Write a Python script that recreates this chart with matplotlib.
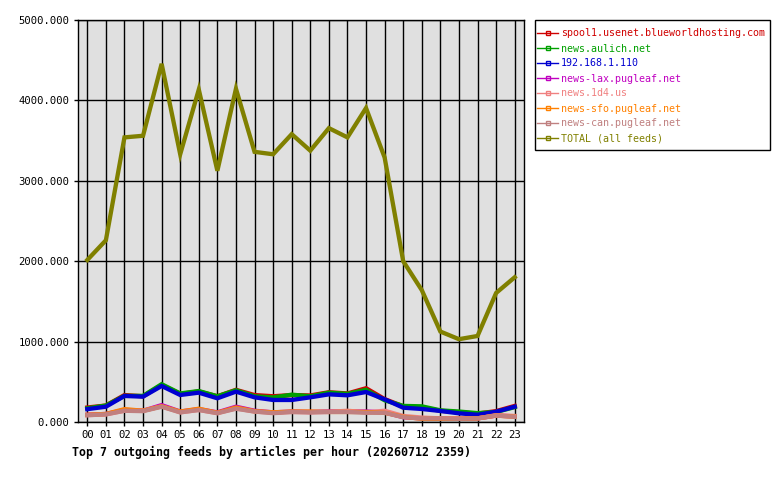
import matplotlib
matplotlib.use("Agg")
import matplotlib.pyplot as plt
from matplotlib.lines import Line2D
from matplotlib.patches import Rectangle

hours = ["00", "01", "02", "03", "04", "05", "06", "07", "08", "09", "10", "11",
         "12", "13", "14", "15", "16", "17", "18", "19", "20", "21", "22", "23"]

feed_names = ["spool1.usenet.blueworldhosting.com", "news.aulich.net", "192.168.1.110",
              "news-lax.pugleaf.net", "news.1d4.us", "news-sfo.pugleaf.net",
              "news-can.pugleaf.net", "TOTAL (all feeds)"]
feed_colors = ["#d00000", "#00a000", "#0000d0", "#c000c0", "#f08080", "#ff8000",
               "#c08080", "#808000"]

spool1 = [180, 205, 335, 320, 460, 350, 380, 320, 400, 335, 320, 335,
          330, 370, 355, 420, 285, 195, 180, 140, 120, 105, 135, 200]
aulich = [170, 205, 325, 325, 470, 355, 385, 320, 395, 320, 305, 340,
          320, 365, 350, 400, 270, 200, 195, 145, 130, 110, 125, 185]
local = [160, 190, 324, 315, 448, 336, 365, 295, 378, 307, 274, 274,
         307, 344, 332, 373, 282, 178, 162, 137, 108, 90, 128, 190]
lax = [90, 100, 150, 140, 210, 130, 160, 120, 190, 140, 120, 130,
       125, 130, 130, 130, 120, 60, 45, 45, 40, 45, 80, 70]
d4 = [85, 95, 140, 140, 195, 120, 150, 110, 170, 130, 115, 125,
      120, 125, 140, 120, 140, 75, 55, 45, 45, 45, 85, 75]
sfo = [90, 100, 160, 140, 195, 130, 165, 115, 180, 135, 120, 130,
       130, 125, 125, 125, 115, 65, 40, 40, 40, 45, 80, 65]
can = [85, 95, 140, 135, 190, 120, 150, 110, 165, 130, 110, 125,
       120, 125, 125, 115, 115, 60, 45, 45, 40, 45, 80, 65]
total = [2015, 2260, 3540, 3560, 4455, 3330, 4135, 3125, 4145, 3360, 3330, 3580,
         3375, 3655, 3540, 3905, 3290, 2000, 1640, 1125, 1030, 1070, 1605, 1800]

series = [spool1, aulich, local, lax, d4, sfo, can, total]

plt.rcParams['font.family'] = ['DejaVu Sans Mono']

fig = plt.figure(figsize=(7.8, 4.8), dpi=100)
ax = fig.add_axes([78 / 780, 58 / 480, 446 / 780, 402 / 480])
ax.set_facecolor("#e0e0e0")

x = list(range(len(hours)))
for vals, col in zip(series, feed_colors):
    ax.plot(x, vals, color=col, linewidth=3.1, solid_joinstyle="miter")

ax.set_xlim(-0.5, 23.5)
ax.set_ylim(0, 5000)
ax.set_xticks(x)
ax.set_xticklabels(hours)
ax.set_yticks([0, 1000, 2000, 3000, 4000, 5000])
ax.set_yticklabels(["%.3f" % v for v in [0, 1000, 2000, 3000, 4000, 5000]])
ax.tick_params(labelsize=7.6, length=3, width=1, color="black", pad=3)
ax.grid(True, color="black", linewidth=1)
ax.set_axisbelow(True)
for s in ax.spines.values():
    s.set_linewidth(1)

fig.text(72 / 780, 1 - 452 / 480, "Top 7 outgoing feeds by articles per hour (20260712 2359)",
         fontsize=8.4, fontweight="bold", va="center", ha="left")

# legend box drawn separately so the padding can differ per side
fig.add_artist(Rectangle((535 / 780, 1 - 150 / 480), 235 / 780, 130 / 480,
                         transform=fig.transFigure, fill=False,
                         edgecolor="black", linewidth=1))

handles = [Line2D([0], [0], color=c, linewidth=1, marker="s", markersize=2.5,
                  markerfacecolor="none", markeredgecolor=c) for c in feed_colors]
leg = ax.legend(handles, feed_names, loc="upper left",
                bbox_to_anchor=(537 / 780, 1 - 28.5 / 480), bbox_transform=fig.transFigure,
                fontsize=7.2, frameon=False, borderaxespad=0, borderpad=0,
                handlelength=2.1, handletextpad=0.3, labelspacing=0.5,
                labelcolor="linecolor")

fig.savefig("out.png", dpi=100)
